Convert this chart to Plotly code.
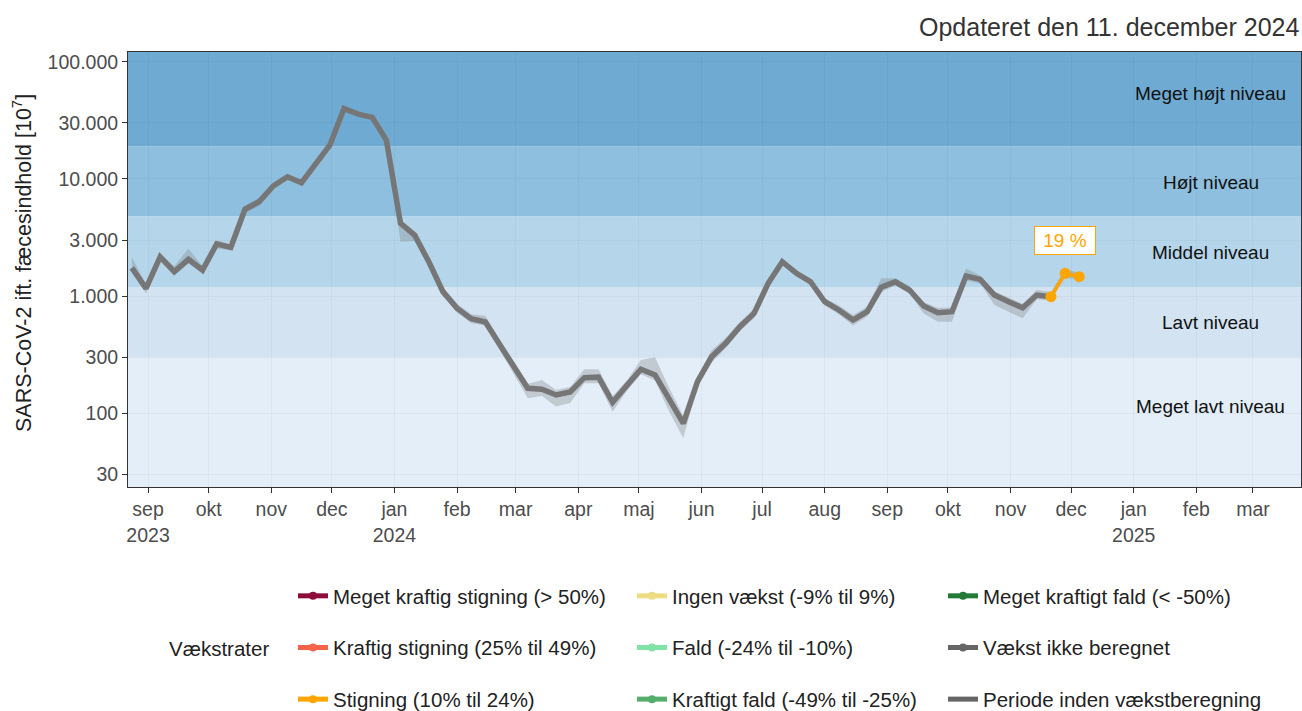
import numpy as np
import pandas as pd
import plotly.graph_objects as go

# ---------------- data ----------------
first_week = "2023-08-24"
n_weeks = 68
dates = pd.date_range(first_week, periods=n_weeks, freq="7D")

values = [1740, 1163, 2160, 1610, 2055, 1667, 2780, 2605, 5500, 6380,
          8690, 10430, 9270, 13370, 19400, 39900, 35700, 33500, 21400, 4170,
          3310, 1960, 1090, 785, 640, 600, 385, 242, 163, 160,
          143, 152, 201, 203, 124, 172, 237, 212, 130, 82,
          186, 303, 395, 547, 711, 1283, 1963, 1563, 1324, 894,
          760, 624, 735, 1187, 1324, 1125, 822, 721, 735, 1482,
          1387, 1020, 894, 795, 1020, 987, 1563, 1463]

lower = [1600, 1050, 2000, 1500, 1900, 1550, 2550, 2450, 5100, 5900,
         8200, 9800, 8700, 12600, 18300, 37500, 34000, 31500, 20000, 2900,
         2950, 1800, 1000, 720, 590, 560, 350, 220, 134, 140,
         114, 122, 180, 180, 103, 155, 215, 190, 103, 61,
         170, 270, 360, 500, 650, 1180, 1850, 1470, 1240, 830,
         700, 560, 670, 1080, 1230, 1040, 711, 604, 604, 1350,
         1280, 838, 735, 645, 940, 910, 1450, 1360]

upper = [2150, 1250, 2300, 1800, 2550, 1800, 3000, 2750, 5900, 6900,
         9200, 11000, 9800, 14200, 20500, 42000, 37500, 35000, 22800, 4500,
         3500, 2100, 1180, 860, 700, 680, 420, 265, 178, 192,
         158, 168, 237, 237, 140, 190, 284, 300, 164, 95,
         205, 345, 440, 600, 780, 1400, 2080, 1660, 1420, 960,
         830, 690, 810, 1415, 1420, 1220, 890, 790, 800, 1720,
         1500, 1100, 970, 860, 1125, 1080, 1690, 1580]

gray_end = 65          # last index of the gray (pre-growth) line
growth_start = 65      # first index of the orange growth segment
growth_label = "19 %"
growth_label_value = 3000

level_names = ["Meget lavt niveau", "Lavt niveau", "Middel niveau", "Højt niveau", "Meget højt niveau"]
level_bounds = [23.4, 300, 1190, 4800, 19000, 121000]
level_label_values = [113, 589, 2370, 9400, 54000]
level_colors = ["#E3EEF8", "#D3E3F2", "#B5D6EA", "#8EBFDE", "#6FAAD3"]

y_tickvals = [30, 100, 300, 1000, 3000, 10000, 30000, 100000]
y_ticktext = ["30", "100", "300", "1.000", "3.000", "10.000", "30.000", "100.000"]

month_ticks = pd.date_range("2023-09-01", "2025-03-01", freq="MS")
month_names = ["jan", "feb", "mar", "apr", "maj", "jun", "jul", "aug", "sep", "okt", "nov", "dec"]
x_ticktext = []
for i, d in enumerate(month_ticks):
    lab = month_names[d.month - 1]
    if i == 0 or d.month == 1:
        lab += "<br>" + str(d.year)
    x_ticktext.append(lab)

legend_cols = [
    [("Meget kraftig stigning (> 50%)", "#8E0C3A", True),
     ("Kraftig stigning (25% til 49%)", "#F4634A", True),
     ("Stigning (10% til 24%)", "#FFA500", True)],
    [("Ingen vækst (-9% til 9%)", "#EEDC82", True),
     ("Fald (-24% til -10%)", "#80E2A6", True),
     ("Kraftigt fald (-49% til -25%)", "#56AE6C", True)],
    [("Meget kraftigt fald (< -50%)", "#237A36", True),
     ("Vækst ikke beregnet", "#666666", True),
     ("Periode inden vækstberegning", "#666666", False)],
]

FONT = "Liberation Sans, Arial, sans-serif"
W, H = 1302, 711
pl, pr, pt, pb = 128, 1, 52, 224
pw, ph = W - pl - pr, H - pt - pb

fig = go.Figure()

# ribbon
fig.add_trace(go.Scatter(x=dates, y=upper, mode="lines", line=dict(width=0),
                         hoverinfo="skip", showlegend=False))
fig.add_trace(go.Scatter(x=dates, y=lower, mode="lines", line=dict(width=0),
                         fill="tonexty", fillcolor="rgba(120,120,120,0.30)",
                         hoverinfo="skip", showlegend=False))
# gray line
fig.add_trace(go.Scatter(x=dates[:gray_end + 1], y=values[:gray_end + 1], mode="lines",
                         line=dict(color="#767676", width=5.5), showlegend=False))
# orange growth segment
fig.add_trace(go.Scatter(x=dates[growth_start:], y=values[growth_start:], mode="lines+markers",
                         line=dict(color="#FFA500", width=3.5),
                         marker=dict(color="#FFA500", size=11), showlegend=False))

# legend dummy traces
for ci, col in enumerate(legend_cols):
    lg = "legend" if ci == 0 else f"legend{ci + 1}"
    for ri, (name, color, with_pt) in enumerate(col):
        fig.add_trace(go.Scatter(
            x=[None], y=[None], name=name, legend=lg, legendgroup=f"g{ci}{ri}",
            mode="lines+markers" if with_pt else "lines",
            line=dict(color=color, width=5),
            marker=dict(color=color, size=8),
        ))

# level bands
shapes = []
for lo, hi, c in zip(level_bounds[:-1], level_bounds[1:], level_colors):
    shapes.append(dict(type="rect", xref="paper", yref="y", x0=0, x1=1, y0=lo, y1=hi,
                       fillcolor=c, line=dict(width=0), layer="below"))

annotations = []
for name, v in zip(level_names, level_label_values):
    annotations.append(dict(x="2025-02-08", y=np.log10(v), xref="x", yref="y", text=name,
                            showarrow=False, font=dict(family=FONT, size=19, color="#111111"),
                            xanchor="center", yanchor="middle"))
annotations.append(dict(x=dates[66], y=np.log10(growth_label_value), xref="x", yref="y",
                        text="\u00a0" + growth_label + "\u00a0", showarrow=False,
                        font=dict(family=FONT, size=19, color="#FFA500"),
                        bgcolor="white", bordercolor="#FFA500", borderwidth=1, borderpad=3))
annotations.append(dict(x=1.0, y=(H - pb - 27) / ph,
                        xref="paper", yref="paper", xanchor="right", yanchor="middle",
                        text="Opdateret den 11. december 2024", showarrow=False,
                        font=dict(family=FONT, size=25, color="#333333")))
annotations.append(dict(x=(219 - pl) / pw, y=(H - pb - 648) / ph, xref="paper", yref="paper",
                        text="Vækstrater", showarrow=False, xanchor="center", yanchor="middle",
                        font=dict(family=FONT, size=20.5, color="#222222")))
annotations.append(dict(x=(22 - pl) / pw, y=(H - pb - 263) / ph, xref="paper", yref="paper",
                        textangle=-90,
                        text="SARS-CoV-2 ift. fæcesindhold [10<sup>7</sup>]", showarrow=False,
                        xanchor="center", yanchor="middle",
                        font=dict(family=FONT, size=21.5, color="#222222")))

legend_common = dict(orientation="v", xref="container", yref="container", xanchor="left",
                     yanchor="top", bgcolor="rgba(0,0,0,0)", tracegroupgap=22,
                     font=dict(family=FONT, size=20.5, color="#222222"), itemwidth=30)
leg_x = [293, 632, 943]
leg_y_top = 1 - 576 / H

fig.update_layout(
    width=W, height=H,
    margin=dict(l=pl, r=pr, t=pt, b=pb, autoexpand=False),
    paper_bgcolor="white", plot_bgcolor="white",
    font=dict(family=FONT, size=20, color="#4D4D4D"),
    shapes=shapes, annotations=annotations,
    legend=dict(x=leg_x[0] / W, y=leg_y_top, **legend_common),
    legend2=dict(x=leg_x[1] / W, y=leg_y_top, **legend_common),
    legend3=dict(x=leg_x[2] / W, y=leg_y_top, **legend_common),
    xaxis=dict(type="date", range=["2023-08-22 02:00", "2025-03-24 19:00"],
               tickvals=month_ticks, ticktext=x_ticktext, ticks="outside", ticklen=5,
               tickcolor="#333333", showgrid=True, gridcolor="rgba(0,0,0,0.035)",
               showline=True, linecolor="#333333", linewidth=1, mirror=True,
               tickfont=dict(family=FONT, size=19.5, color="#4D4D4D"), zeroline=False),
    yaxis=dict(type="log", range=[1.370, 5.083], tickvals=y_tickvals, ticktext=y_ticktext,
               ticks="outside", ticklen=5, tickcolor="#333333", showgrid=True,
               gridcolor="rgba(0,0,0,0.035)", showline=True, linecolor="#333333",
               linewidth=1, mirror=True,
               tickfont=dict(family=FONT, size=19.5, color="#4D4D4D"),
               zeroline=False),
)

fig.write_html("out.html", config={"displayModeBar": False},
               post_script="document.body.style.margin='0px';")
